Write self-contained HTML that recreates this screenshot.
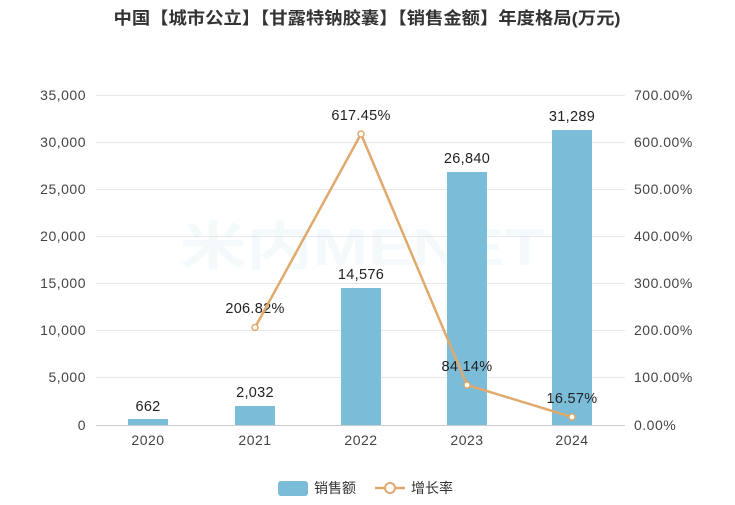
<!DOCTYPE html>
<html><head><meta charset="utf-8"><style>
body{margin:0;background:#fff;width:735px;height:500px;overflow:hidden}
svg text{font-family:"Liberation Sans","Noto Sans CJK SC",sans-serif}
</style></head><body>
<svg width="735" height="500" xmlns="http://www.w3.org/2000/svg">
<text x="367" y="24" text-anchor="middle" font-size="17" font-weight="bold" fill="#333" textLength="507" lengthAdjust="spacingAndGlyphs">中国【城市公立】【甘露特钠胶囊】【销售金额】年度格局(万元)</text>
<g stroke="#e8e8e8" stroke-width="1">
<line x1="96" x2="625" y1="95.5" y2="95.5"/><line x1="96" x2="625" y1="142.5" y2="142.5"/>
<line x1="96" x2="625" y1="189.5" y2="189.5"/><line x1="96" x2="625" y1="236.5" y2="236.5"/>
<line x1="96" x2="625" y1="283.5" y2="283.5"/><line x1="96" x2="625" y1="330.5" y2="330.5"/>
<line x1="96" x2="625" y1="377.5" y2="377.5"/>
</g>
<line x1="96" x2="625" y1="425.5" y2="425.5" stroke="#ccc"/>
<text x="180" y="265" font-size="52" font-weight="bold" fill="#7bbcd9" opacity="0.08" textLength="365" lengthAdjust="spacingAndGlyphs">米内MENET</text>
<g font-size="14" fill="#444" text-anchor="end" letter-spacing="0.5">
<text x="86" y="100">35,000</text><text x="86" y="147">30,000</text><text x="86" y="194">25,000</text>
<text x="86" y="241">20,000</text><text x="86" y="288">15,000</text><text x="86" y="335">10,000</text>
<text x="86" y="382">5,000</text><text x="86" y="430">0</text>
</g>
<g font-size="14" fill="#444" text-anchor="start" letter-spacing="0.5">
<text x="634" y="100">700.00%</text><text x="634" y="147">600.00%</text><text x="634" y="194">500.00%</text>
<text x="634" y="241">400.00%</text><text x="634" y="288">300.00%</text><text x="634" y="335">200.00%</text>
<text x="634" y="382">100.00%</text><text x="634" y="430">0.00%</text>
</g>
<g font-size="14" fill="#444" text-anchor="middle" letter-spacing="0.5">
<text x="148" y="445">2020</text><text x="255" y="445">2021</text><text x="361" y="445">2022</text>
<text x="467" y="445">2023</text><text x="572" y="445">2024</text>
</g>
<g fill="#7bbcd9">
<rect x="128" y="419" width="40" height="6"/>
<rect x="235" y="406" width="40" height="19"/>
<rect x="341" y="288" width="40" height="137"/>
<rect x="447" y="172" width="40" height="253"/>
<rect x="552" y="130" width="40" height="295"/>
</g>
<g font-size="14.5" fill="#222" text-anchor="middle" letter-spacing="0.3">
<text x="148" y="411">662</text><text x="255" y="397">2,032</text><text x="361" y="279">14,576</text>
<text x="467" y="163">26,840</text><text x="572" y="121">31,289</text>
<text x="255" y="313">206.82%</text><text x="361" y="120">617.45%</text>
<text x="467" y="371">84.14%</text><text x="572" y="403">16.57%</text>
</g>
<polyline points="255,327.5 361,134 467,385 572,417" fill="none" stroke="#e0a96d" stroke-width="2.5"/>
<g fill="#fff" stroke="#e0a96d" stroke-width="1.5">
<circle cx="255" cy="327.5" r="3"/><circle cx="361" cy="134" r="3"/><circle cx="467" cy="385" r="3"/><circle cx="572" cy="417" r="3"/>
</g>
<rect x="278" y="481" width="30" height="15" rx="3" fill="#7bbcd9"/>
<text x="314" y="493" font-size="14" fill="#333">销售额</text>
<line x1="375" x2="405" y1="488" y2="488" stroke="#e0a96d" stroke-width="2.5"/>
<circle cx="390" cy="488" r="5" fill="#fff" stroke="#e0a96d" stroke-width="2"/>
<text x="411" y="493" font-size="14" fill="#333">增长率</text>
</svg>
</body></html>
